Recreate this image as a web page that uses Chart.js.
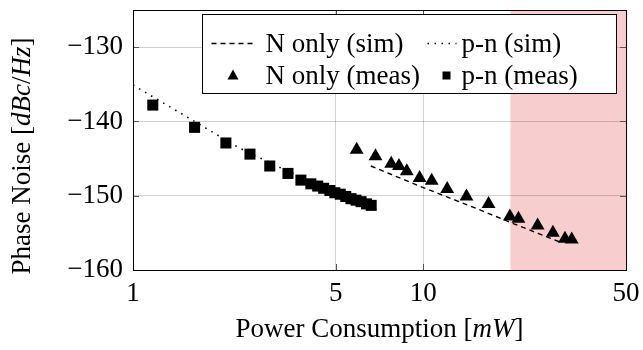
<!DOCTYPE html>
<html>
<head>
<meta charset="utf-8">
<script src="https://cdn.jsdelivr.net/npm/chart.js@4.4.0/dist/chart.umd.min.js"></script>
<style>
html,body{margin:0;padding:0;background:#fff;}
</style>
</head>
<body>
<canvas id="chart" width="643" height="350"></canvas>
<script>
// measured: N only (triangles)
const nOnlyMeasX = [5.90, 6.85, 7.76, 8.25, 8.78, 9.72, 10.7, 12.1, 14.1, 16.8, 19.9, 21.3, 24.8, 28.0, 30.8, 32.5];
const nOnlyMeasY = [-143.8, -144.7, -145.7, -146.0, -146.7, -147.6, -148.0, -149.1, -150.1, -151.1, -152.8, -153.1, -154.0, -155.0, -155.8, -155.9];
// measured: p-n (squares)
const pnMeasX = [1.17, 1.63, 2.09, 2.53, 2.96, 3.42, 3.79, 4.10, 4.33, 4.54, 4.77, 4.96, 5.18, 5.41, 5.64, 5.87, 6.11, 6.38, 6.62];
const pnMeasY = [-137.8, -140.8, -142.9, -144.4, -146.0, -147.0, -147.9, -148.4, -148.7, -149.0, -149.3, -149.6, -149.8, -150.1, -150.4, -150.6, -150.8, -151.1, -151.3];
// simulated curves
const nOnlySimX = [6.6, 10, 15, 20, 25, 30.3];
const nOnlySimY = [-146.0, -148.9, -151.6, -153.6, -155.1, -156.4];
const pnSimX = [1, 1.63, 2.33, 3.25, 4.5, 6.7];
const pnSimY = [-135.1, -140.0, -143.6, -146.3, -148.7, -151.2];

const xTicks = [1, 5, 10, 50];
const yTicks = [-160, -150, -140, -130];
const shadeFrom = 20; // mW, shaded region up to axis end

const zip = (xs, ys) => xs.map((x, i) => ({x: x, y: ys[i]}));
const FONT = '"Liberation Serif", "Times New Roman", serif';
const FS = 27;

const shadePlugin = {
  id: 'shade',
  beforeDraw(chart) {
    const {ctx, chartArea: a, scales: {x}} = chart;
    const x0 = x.getPixelForValue(shadeFrom);
    ctx.save();
    ctx.fillStyle = '#f8cdcd';
    ctx.fillRect(x0, a.top, a.right - x0, a.bottom - a.top);
    ctx.restore();
  }
};

function drawMixed(ctx, parts, cx, cy) {
  let w = 0;
  parts.forEach(p => { ctx.font = p[1] + FS + 'px ' + FONT; w += ctx.measureText(p[0]).width; });
  let x = cx - w / 2;
  ctx.textAlign = 'left';
  ctx.textBaseline = 'middle';
  parts.forEach(p => {
    ctx.font = p[1] + FS + 'px ' + FONT;
    ctx.fillText(p[0], x, cy);
    x += ctx.measureText(p[0]).width;
  });
}

const framePlugin = {
  id: 'frame',
  afterDraw(chart) {
    const {ctx, chartArea: a, scales: {x, y}} = chart;
    ctx.save();
    ctx.lineWidth = 1;
    // inner tick marks
    ctx.strokeStyle = '#555';
    ctx.beginPath();
    xTicks.forEach(v => {
      const px = Math.round(x.getPixelForValue(v)) + 0.5;
      ctx.moveTo(px, a.bottom); ctx.lineTo(px, a.bottom - 6);
      ctx.moveTo(px, a.top); ctx.lineTo(px, a.top + 6);
    });
    yTicks.forEach(v => {
      const py = Math.round(y.getPixelForValue(v)) + 0.5;
      ctx.moveTo(a.left, py); ctx.lineTo(a.left + 6, py);
      ctx.moveTo(a.right, py); ctx.lineTo(a.right - 6, py);
    });
    ctx.stroke();
    ctx.strokeStyle = '#000';
    ctx.strokeRect(Math.round(a.left) + 0.5, Math.round(a.top) + 0.5,
      Math.round(a.right - a.left), Math.round(a.bottom - a.top));

    // legend
    const ds = chart.data.datasets;
    const W = 414, H = 79;
    const L = Math.round(a.right) - 9.5 - W, T = Math.round(a.top) + 4.5;
    ctx.fillStyle = '#fff';
    ctx.fillRect(L, T, W, H);
    ctx.strokeRect(L, T, W, H);
    const r1 = T + 29, r2 = T + 61;
    ctx.fillStyle = '#000';
    ctx.font = FS + 'px ' + FONT;
    ctx.textAlign = 'left';
    ctx.textBaseline = 'middle';
    ctx.lineWidth = 1.4;
    ctx.setLineDash(ds[2].borderDash);
    ctx.beginPath(); ctx.moveTo(L + 9, r1); ctx.lineTo(L + 52, r1); ctx.stroke();
    ctx.lineWidth = 1.6;
    ctx.setLineDash(ds[3].borderDash);
    ctx.beginPath(); ctx.moveTo(L + 225, r1); ctx.lineTo(L + 254, r1); ctx.stroke();
    ctx.setLineDash([]);
    ctx.fillText(ds[2].label, L + 63, r1 + 1);
    ctx.fillText(ds[3].label, L + 259, r1 + 1);
    ctx.beginPath();
    ctx.moveTo(L + 30.5, r2 - 6); ctx.lineTo(L + 36, r2 + 4); ctx.lineTo(L + 25, r2 + 4); ctx.closePath();
    ctx.fill();
    ctx.fillRect(L + 240, r2 - 4, 8, 8);
    ctx.fillText(ds[0].label, L + 63, r2 + 1);
    ctx.fillText(ds[1].label, L + 259, r2 + 1);

    // axis titles
    drawMixed(ctx, [['Power Consumption ', ''], ['[', ''], ['mW', 'italic '], [']', '']],
      (a.left + a.right) / 2, 330);
    ctx.translate(23, 156);
    ctx.rotate(-Math.PI / 2);
    drawMixed(ctx, [['Phase Noise ', ''], ['[', ''], ['dBc', 'italic '], ['/', ''], ['Hz', 'italic '], [']', '']], 0, 0);
    ctx.restore();
  }
};

new Chart(document.getElementById('chart'), {
  type: 'scatter',
  data: {
    datasets: [
      {label: 'N only (meas)', data: zip(nOnlyMeasX, nOnlyMeasY), pointStyle: 'triangle',
        pointRadius: 8, backgroundColor: '#000', borderColor: '#000', borderWidth: 0},
      {label: 'p-n (meas)', data: zip(pnMeasX, pnMeasY), pointStyle: 'rect',
        pointRadius: 7.8, backgroundColor: '#000', borderColor: '#000', borderWidth: 0},
      {label: 'N only (sim)', data: zip(nOnlySimX, nOnlySimY), showLine: true, pointRadius: 0,
        borderColor: '#000', borderWidth: 1.4, borderDash: [5, 4], fill: false},
      {label: 'p-n (sim)', data: zip(pnSimX, pnSimY), showLine: true, pointRadius: 0,
        borderColor: '#000', borderWidth: 1.6, borderDash: [1.5, 5.5], fill: false}
    ]
  },
  options: {
    responsive: false,
    animation: false,
    layout: {padding: {top: 10, right: 17, left: 0, bottom: 0}},
    plugins: {legend: {display: false}, tooltip: {enabled: false}},
    scales: {
      x: {
        type: 'logarithmic', min: 1, max: 50,
        afterBuildTicks: s => { s.ticks = xTicks.map(v => ({value: v})); },
        afterFit: s => { s.height = 80; s.paddingLeft = 0; s.paddingRight = 0; },
        ticks: {callback: v => String(v), autoSkip: false, maxRotation: 0, padding: 8,
          color: '#000', font: {family: FONT, size: FS}},
        grid: {color: 'rgba(0,0,0,0.18)', drawTicks: false},
        border: {display: true, color: '#000'}
      },
      y: {
        min: -160, max: -125,
        afterBuildTicks: s => { s.ticks = yTicks.map(v => ({value: v})); },
        afterFit: s => { s.width = 133; s.paddingTop = 0; s.paddingBottom = 0; },
        ticks: {callback: v => '\u2212' + Math.abs(v), padding: 10,
          color: '#000', font: {family: FONT, size: FS}},
        grid: {color: 'rgba(0,0,0,0.18)', drawTicks: false},
        border: {display: true, color: '#000'}
      }
    }
  },
  plugins: [shadePlugin, framePlugin]
});
</script>
</body>
</html>
